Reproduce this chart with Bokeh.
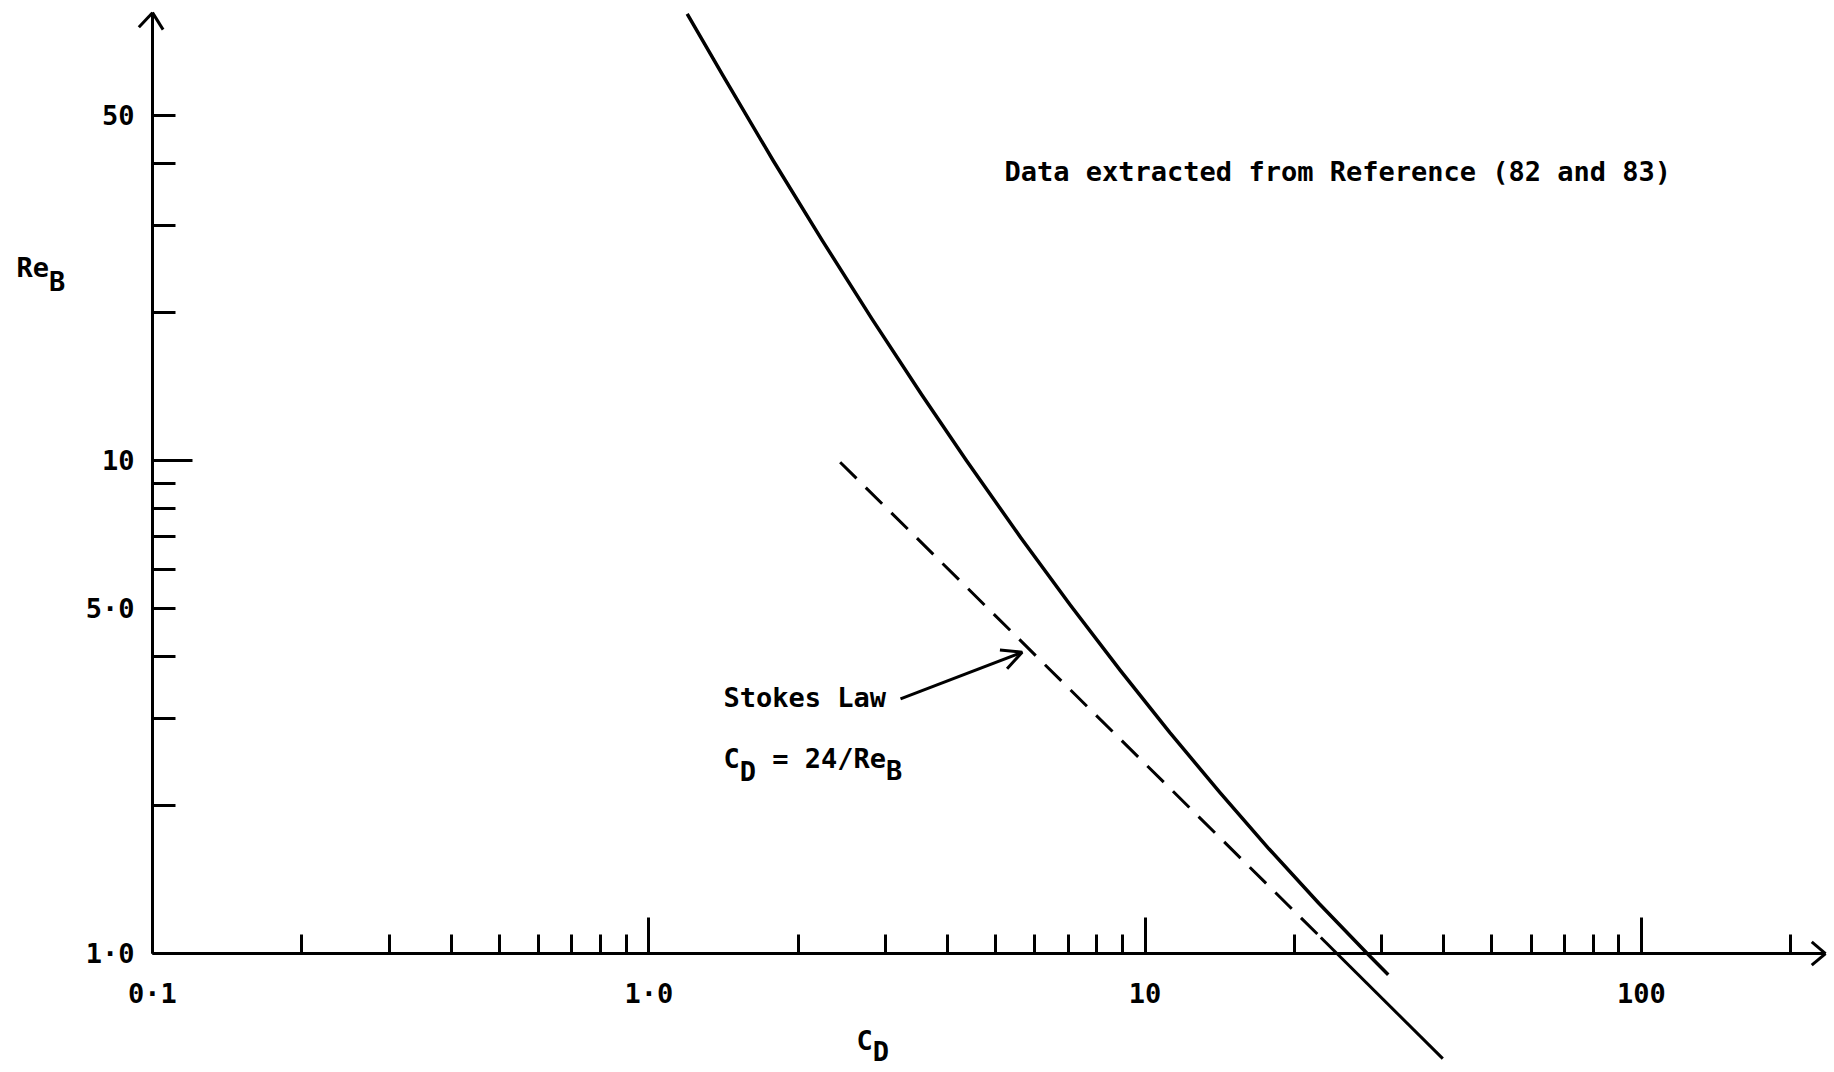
from bokeh.plotting import figure
from bokeh.models import Range1d, FixedTicker, Label, Arrow, OpenHead
from bokeh.embed import file_html
from bokeh.resources import INLINE

# ---- data ----
# measured drag curve (C_D vs Re_B)
cd_curve = [1.195, 1.413, 1.778, 2.239, 2.818, 3.548, 4.365, 5.623, 7.079,
            8.913, 11.22, 14.13, 17.78, 22.39, 28.03, 30.90]
re_curve = [80.5, 60.2, 40.7, 27.9, 19.36, 13.60, 10.0, 6.966, 5.082,
            3.752, 2.806, 2.125, 1.629, 1.265, 1.0, 0.906]

# Stokes law line C_D = 24/Re_B (dashed part, then solid part)
stokes_dash_cd = [2.43, 22.6]
stokes_dash_re = [9.92, 1.078]
stokes_solid_cd = [22.6, 39.8]
stokes_solid_re = [1.078, 0.612]

# axes ticks
x_major = [0.1, 1, 10, 100]
x_labels = ["0·1", "1·0", "10", "100"]
x_minor = [0.2, 0.3, 0.4, 0.5, 0.6, 0.7, 0.8, 0.9,
           2, 3, 4, 5, 6, 7, 8, 9,
           20, 30, 40, 50, 60, 70, 80, 90, 200]
y_major = [1, 5, 10, 50]
y_labels = ["1·0", "5·0", "10", "50"]
y_minor = [2, 3, 4, 6, 7, 8, 9, 20, 30, 40]

X_AXIS_END = 235
Y_AXIS_END = 81
FONT = "DejaVu Sans Mono"
FS = "27px"
FSTYLE = "bold"

p = figure(width=1834, height=1072, x_axis_type="log", y_axis_type="log",
           x_range=Range1d(0.0494, 245.0), y_range=Range1d(0.5737, 85.73),
           output_backend="svg", toolbar_location=None, min_border=0)
p.outline_line_color = None
p.xgrid.visible = False
p.ygrid.visible = False
p.background_fill_color = "white"

xa = p.xaxis[0]
xa.fixed_location = 1
xa.bounds = (0.1, X_AXIS_END)
xa.ticker = FixedTicker(ticks=x_major, minor_ticks=x_minor)
xa.major_label_overrides = dict(zip(x_major, x_labels))
xa.major_tick_in = 36
xa.major_tick_out = 0
xa.minor_tick_in = 19
xa.minor_tick_out = 0
xa.axis_line_width = 3
xa.major_tick_line_width = 3
xa.minor_tick_line_width = 3
xa.major_label_text_font = FONT
xa.major_label_text_font_size = FS
xa.major_label_text_font_style = FSTYLE
xa.major_label_text_color = "black"
xa.major_label_standoff = 24

ya = p.yaxis[0]
ya.fixed_location = 0.1
ya.bounds = (1, Y_AXIS_END)
ya.ticker = FixedTicker(ticks=y_major, minor_ticks=y_minor)
ya.major_label_overrides = dict(zip(y_major, y_labels))
ya.major_tick_in = 23
ya.major_tick_out = 0
ya.minor_tick_in = 23
ya.minor_tick_out = 0
ya.axis_line_width = 3
ya.major_tick_line_width = 3
ya.minor_tick_line_width = 3
ya.major_label_text_font = FONT
ya.major_label_text_font_size = FS
ya.major_label_text_font_style = FSTYLE
ya.major_label_text_color = "black"
ya.major_label_standoff = 18

# axis arrow heads and the longer tick at 10
p.ray(x=[X_AXIS_END, X_AXIS_END], y=[1, 1], length=18, length_units="screen",
      angle=[140, 220], angle_units="deg", line_width=3, line_color="black")
p.ray(x=[0.1, 0.1], y=[Y_AXIS_END, Y_AXIS_END], length=20, length_units="screen",
      angle=[-133, -58], angle_units="deg", line_width=3, line_color="black")
p.ray(x=[0.1], y=[10], length=40, length_units="screen", angle=0,
      line_width=3, line_color="black")

# curves
p.line(cd_curve, re_curve, line_width=3.5, line_color="black", line_join="round")
p.line(stokes_dash_cd, stokes_dash_re, line_width=3, line_color="black",
       line_dash="23 13")
p.line(stokes_solid_cd, stokes_solid_re, line_width=3, line_color="black")


def lab(text, x, y, xo=0, yo=0):
    p.add_layout(Label(x=x, y=y, x_offset=xo, y_offset=yo, text=text,
                       text_font=FONT, text_font_size=FS, text_font_style=FSTYLE,
                       text_color="black", text_align="left",
                       text_baseline="middle"))


ADV = 16.26  # monospace advance at 27px

# axis titles
lab("Re", 0.0532, 24.6)
lab("B", 0.0532, 24.6, xo=2 * ADV, yo=-14)
lab("C", 2.62, 0.666)
lab("D", 2.62, 0.666, xo=ADV, yo=-11)

# annotations
lab("Data extracted from Reference (82 and 83)", 5.21, 38.6)
lab("Stokes Law", 1.414, 3.31)
lab("C", 1.414, 2.487)
lab("D", 1.414, 2.487, xo=ADV, yo=-13)
lab("= 24/Re", 1.414, 2.487, xo=3 * ADV)
lab("B", 1.414, 2.487, xo=10 * ADV, yo=-12)

p.add_layout(Arrow(end=OpenHead(size=20, line_width=3, line_color="black"),
                   x_start=3.215, y_start=3.286, x_end=5.654, y_end=4.085,
                   line_width=3, line_color="black"))

with open("out.html", "w", encoding="utf-8") as f:
    f.write(file_html(p, INLINE))
